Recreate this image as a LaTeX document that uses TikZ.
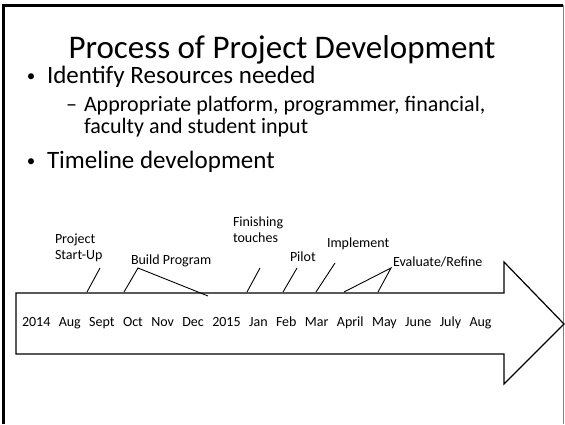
\documentclass[tikz,border=0pt]{standalone}
\usepackage{fontspec}
\setmainfont{Carlito}
\newcommand{\gp}{\hspace{8.4pt}}
\begin{document}
\begin{tikzpicture}[x=1pt,y=-1pt,
  txt/.style={inner sep=0pt,outer sep=0pt,anchor=base west},
  lbl/.style={inner sep=0pt,outer sep=0pt,align=left,font=\fontsize{14}{16}\selectfont},
  lead/.style={line width=0.9pt},
  frame/.style={line width=3pt,black},
  arrowshape/.style={line width=1.2pt,fill=white,line join=miter}]
\useasboundingbox (0,0) rectangle (565,424);
% slide frame
\draw[frame] (3.5,424) -- (3.5,5.3) -- (563,5.3);
\draw[line width=0.8pt,gray] (563,5.3) -- (563,424);
% title and bullets
\node[txt,anchor=base] (title) at (282,58) {\fontsize{33}{36}\selectfont Process of Project Development};
\node[txt] (b1) at (27,81) {\fontsize{17}{20}\selectfont •};
\node[txt] (t1) at (47,83) {\fontsize{25}{28}\selectfont Identify Resources needed};
\node[txt] (d1) at (66,111) {\fontsize{22}{26}\selectfont –};
\node[txt] (t2) at (84,111) {\fontsize{22}{26}\selectfont Appropriate platform, programmer, financial,};
\node[txt] (t3) at (84,133) {\fontsize{22}{26}\selectfont faculty and student input};
\node[txt] (b2) at (27,166) {\fontsize{17}{20}\selectfont •};
\node[txt] (t4) at (47,168) {\fontsize{25}{28}\selectfont Timeline development};
% big arrow
\draw[arrowshape] (16,293) -- (504,293) -- (504,262) -- (564,324) -- (504,384) -- (504,354) -- (16,354) -- cycle;
\node[txt,anchor=west] (dates) at (22,323) {\fontsize{14}{16}\selectfont 2014\gp Aug\gp Sept\gp Oct\gp Nov\gp Dec\gp 2015\gp Jan\gp Feb\gp Mar\gp April\gp May\gp June\gp July\gp Aug};
% labels
\node[lbl,anchor=north west] (l1) at (55,234) {Project\\Start-Up};
\node[lbl,anchor=base west] (l2) at (131,264) {Build Program};
\node[lbl,anchor=north west] (l3) at (233,217) {Finishing\\touches};
\node[lbl,anchor=base west] (l4) at (290,261) {Pilot};
\node[lbl,anchor=base west] (l5) at (327,247) {Implement};
\node[lbl,anchor=base west] (l6) at (393,266) {Evaluate/Refine};
% leader coordinates
\coordinate (p1a) at (100,268); \coordinate (p1b) at (87,292);
\coordinate (p2a) at (138,268); \coordinate (p2b) at (124,292); \coordinate (p2c) at (208,296);
\coordinate (p3a) at (260,268); \coordinate (p3b) at (247,292);
\coordinate (p4a) at (297,268); \coordinate (p4b) at (283,292);
\coordinate (p5a) at (335,263); \coordinate (p5b) at (316,292);
\coordinate (p6a) at (391,268); \coordinate (p6b) at (344,292); \coordinate (p6c) at (378,292);
\draw[lead] (p1a) -- (p1b);
\draw[lead] (p2b) -- (p2a) -- (p2c);
\draw[lead] (p3a) -- (p3b);
\draw[lead] (p4a) -- (p4b);
\draw[lead] (p5a) -- (p5b);
\draw[lead] (p6b) -- (p6a) -- (p6c);
\end{tikzpicture}
\end{document}
